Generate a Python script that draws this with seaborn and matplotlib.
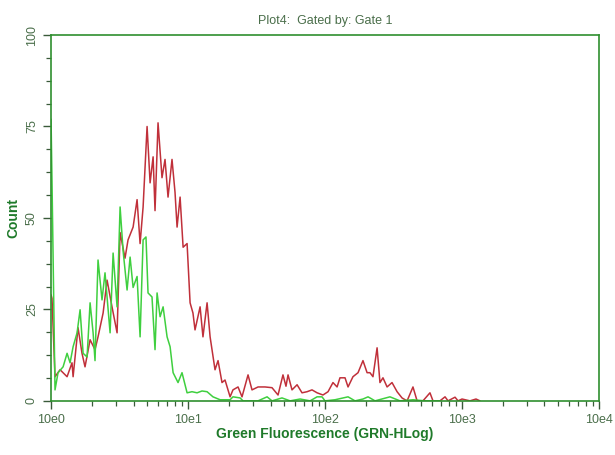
import numpy as np
import pandas as pd
import matplotlib
matplotlib.use("Agg")
import matplotlib.pyplot as plt
import seaborn as sns
from matplotlib.ticker import FixedLocator, FixedFormatter, MultipleLocator, LogLocator, NullFormatter

# fluorescence position in decades (10^d), counts
red_decade = [0.0, 0.007, 0.029, 0.066, 0.117, 0.153, 0.161, 0.197, 0.226, 0.248,
              0.285, 0.321, 0.343, 0.380, 0.409, 0.445, 0.482, 0.504, 0.540, 0.562,
              0.599, 0.628, 0.650, 0.672, 0.701, 0.723, 0.745, 0.759, 0.781, 0.810,
              0.832, 0.854, 0.883, 0.905, 0.920, 0.942, 0.964, 0.993, 1.015, 1.036,
              1.051, 1.088, 1.109, 1.139, 1.161, 1.197, 1.219, 1.248, 1.270, 1.307,
              1.328, 1.365, 1.394, 1.438, 1.467, 1.511, 1.562, 1.613, 1.657, 1.693,
              1.715, 1.730, 1.759, 1.796, 1.832, 1.869, 1.905, 1.942, 1.985, 2.022,
              2.058, 2.088, 2.109, 2.146, 2.168, 2.204, 2.241, 2.277, 2.307, 2.328,
              2.350, 2.380, 2.401, 2.423, 2.453, 2.489, 2.526, 2.562, 2.599, 2.642,
              2.672, 2.715, 2.766, 2.788, 2.839, 2.876, 2.898, 2.949, 2.971, 3.000,
              3.058, 3.102, 3.131]
red_count = [29, 28, 6.6, 8.5, 6.6, 10.4, 6.6, 20, 13, 9.3,
             16.7, 14, 17.5, 24, 33, 25.7, 18.6, 46, 39, 44,
             47.5, 55, 43, 53, 75, 59.6, 66.7, 52, 76, 61,
             66, 55.7, 66, 57, 47.5, 55.7, 42, 43, 26.8, 24,
             19.4, 25.7, 17.5, 26.8, 17.5, 8.5, 11, 5, 5.7, 1.1,
             3, 3.8, 1.1, 7.1, 3, 3.8, 3.8, 3.6, 1.6, 7.1,
             4, 7.1, 3, 4.4, 2.2, 2.5, 3, 2.2, 1.6, 2.5,
             5, 3.8, 6.3, 6.3, 3.8, 6.6, 7.7, 11, 7.7, 7.7,
             6.6, 14.5, 5, 6.3, 3.8, 5, 2.5, 0.8, 0, 3.8,
             0, 0, 2.2, 0, 0, 1.1, 0, 1, 0, 0.5,
             0, 0.5, 0]

green_decade = [0.0, 0.007, 0.029, 0.051, 0.088, 0.117, 0.139, 0.161, 0.190, 0.212,
                0.234, 0.263, 0.285, 0.307, 0.321, 0.343, 0.372, 0.394, 0.431, 0.453,
                0.482, 0.504, 0.526, 0.555, 0.577, 0.599, 0.628, 0.650, 0.672, 0.693,
                0.708, 0.737, 0.759, 0.774, 0.796, 0.818, 0.847, 0.869, 0.891, 0.927,
                0.956, 0.993, 1.029, 1.066, 1.102, 1.139, 1.182, 1.234, 1.307, 1.328,
                1.380, 1.401, 1.453, 1.511, 1.577, 1.613, 1.686, 1.745, 1.818, 1.891,
                1.942, 1.978, 2.000, 2.073, 2.168, 2.219, 2.277, 2.314, 2.365, 2.474,
                2.547, 2.642, 2.730, 2.839]
green_count = [77, 60, 3, 7.7, 9.3, 13, 10.4, 14.8, 18.6, 24.9,
               13, 12, 26.8, 18.6, 11, 38.5, 27.6, 35, 18.6, 40.4,
               25.7, 53, 41, 30.3, 39.3, 31, 34, 17.5, 44, 44.8,
               29.5, 28.4, 14, 29.5, 23, 25.7, 17.5, 14.8, 7.7, 5,
               7.7, 2.2, 2.5, 2.2, 2.7, 2.5, 1.1, 0.3, 0.3, 1.1,
               0.8, 0, 0, 0, 1.1, 0, 0.8, 0, 0.5, 0,
               1.1, 1.1, 0, 0.3, 1.1, 0, 0.5, 1.1, 0, 1.1,
               0, 0.3, 0, 0]

decade_ticks = [0, 1, 2, 3, 4]
decade_labels = ["10e0", "10e1", "10e2", "10e3", "10e4"]

red_df = pd.DataFrame({"fl": 10.0 ** np.array(red_decade), "count": red_count, "gate": "red"})
green_df = pd.DataFrame({"fl": 10.0 ** np.array(green_decade), "count": green_count, "gate": "green"})
df = pd.concat([red_df, green_df], ignore_index=True)

sns.set_style("white")
plt.rcParams["font.family"] = ["Liberation Sans", "DejaVu Sans"]

fig = plt.figure(figsize=(6.15, 4.55), dpi=100)
ax = fig.add_axes([0.083, 0.119, 0.891, 0.804])

sns.lineplot(data=df, x="fl", y="count", hue="gate", units="gate", estimator=None, sort=False,
             palette={"red": "#c0303a", "green": "#3fcf3f"}, linewidth=1.1, legend=False, ax=ax)

axis_green = "#2f8f2f"
text_green = "#4a6e4a"

ax.set_xscale("log")
ax.set_xlim(1, 10000)
ax.set_ylim(0, 100)
ax.xaxis.set_major_locator(FixedLocator([10.0 ** d for d in decade_ticks]))
ax.xaxis.set_major_formatter(FixedFormatter(decade_labels))
ax.xaxis.set_minor_locator(LogLocator(base=10, subs=np.arange(2, 10)))
ax.xaxis.set_minor_formatter(NullFormatter())
ax.yaxis.set_major_locator(MultipleLocator(25))
ax.yaxis.set_minor_locator(MultipleLocator(6.25))

for s in ax.spines.values():
    s.set_color(axis_green)
    s.set_linewidth(1.2)

ax.tick_params(axis="both", which="both", bottom=True, left=True, top=False, right=False)
ax.tick_params(axis="both", which="major", direction="out", length=6, width=1,
               color="#3a5a3a", labelcolor=text_green, labelsize=9)
ax.tick_params(axis="both", which="minor", direction="out", length=3.5, width=0.9, color="#3a5a3a")
ax.tick_params(axis="y", which="major", labelrotation=90)
for lab in ax.get_yticklabels():
    lab.set_va("center")

ax.set_xlabel("Green Fluorescence (GRN-HLog)", fontsize=10, fontweight="bold",
              color="#1f7a2a", family=["Liberation Sans Narrow", "Liberation Sans"], labelpad=1)
ax.set_ylabel("Count", fontsize=10, fontweight="bold", color="#1f7a2a", labelpad=4)
ax.set_title("Plot4:  Gated by: Gate 1", fontsize=9, color=text_green, pad=8)

fig.savefig("out.png", dpi=100)
